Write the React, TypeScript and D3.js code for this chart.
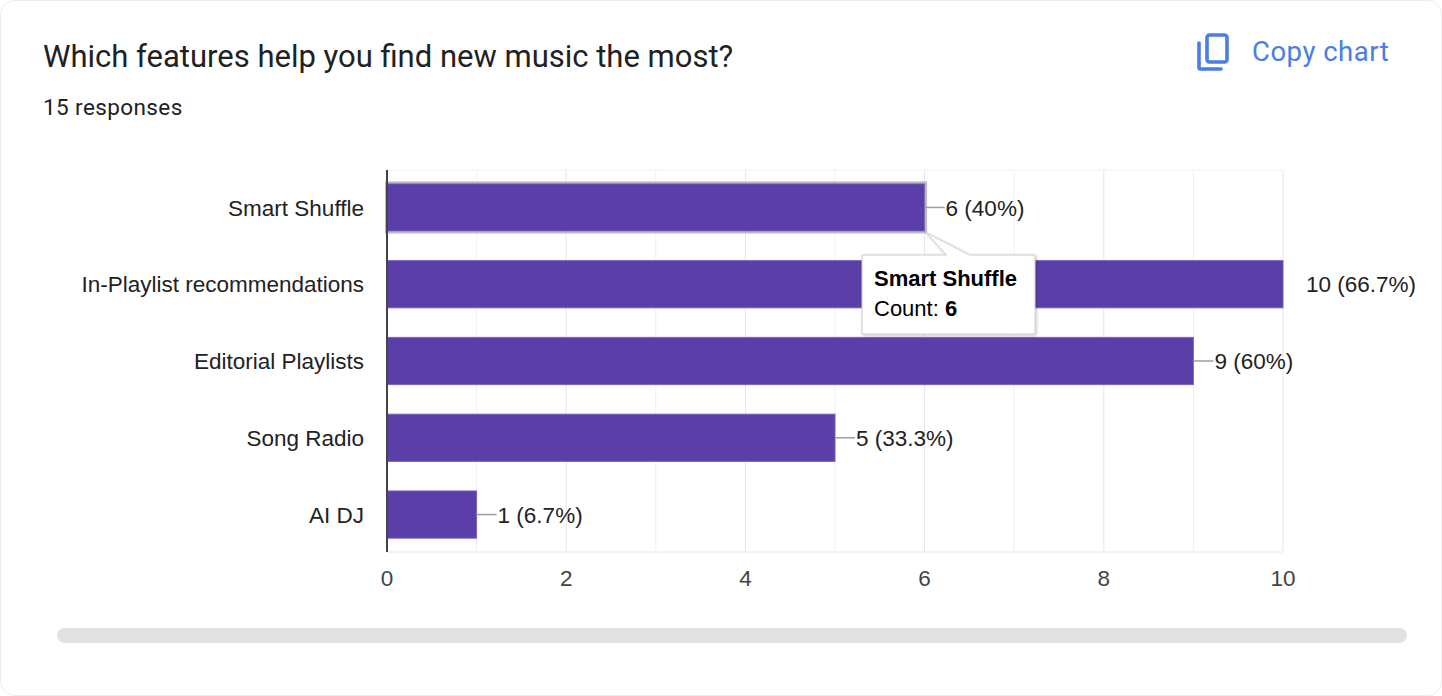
import React from "react";
import * as d3 from "d3";

const categories = ["Smart Shuffle", "In-Playlist recommendations", "Editorial Playlists", "Song Radio", "AI DJ"];
const counts = [6, 10, 9, 5, 1];
const percents = ["40%", "66.7%", "60%", "33.3%", "6.7%"];
const xTicks = [0, 2, 4, 6, 8, 10];
const totalResponses = 15;
const title = "Which features help you find new music the most?";
const highlighted = "Smart Shuffle";

const W = 1442;
const H = 696;
const plot = { left: 387, right: 1283, top: 170, bottom: 552 };
const BAR = "#5b3ea8";
const labelFont = "'Liberation Sans', Arial, sans-serif";
const FS = 22.5;

export default function App() {
  const x = d3.scaleLinear().domain([0, 10]).range([plot.left, plot.right]);
  const y = d3
    .scaleBand<string>()
    .domain(categories)
    .range([plot.top, plot.bottom])
    .paddingInner(0.385)
    .paddingOuter(0.18);
  const minor = d3.range(0, 11, 1);
  const hi = categories.indexOf(highlighted);
  const hx = x(counts[hi]);
  const hy = (y(highlighted) as number) + y.bandwidth();
  const tip = { x: 862, y: 255, w: 173, h: 79 };

  return (
    <svg
      width={W}
      height={H}
      style={{ position: "absolute", left: 0, top: 0, background: "#fff" }}
    >
      <defs>
        <filter id="sh" x="-20%" y="-20%" width="140%" height="150%">
          <feDropShadow dx="1" dy="1" stdDeviation="1.5" floodColor="#000" floodOpacity="0.25" />
        </filter>
      </defs>
      <rect x={0.5} y={0.5} width={W - 1} height={H - 1} rx={14} fill="#fff" stroke="#ededed" />

      <text x={43} y={67} fontFamily="Roboto, 'Noto Sans', sans-serif" fontSize={31} fill="#202124">
        {title}
      </text>
      <text x={43} y={115} fontFamily="Roboto, 'Noto Sans', sans-serif" fontSize={22.5} fill="#202124" letterSpacing={0.4}>
        {`${totalResponses} responses`}
      </text>

      {/* Copy chart */}
      <g stroke="#4a7ee6" strokeWidth={3.6} fill="none" strokeLinecap="round" strokeLinejoin="round">
        <rect x={1207} y={35} width={20} height={27} rx={2.5} />
        <path d="M1199,43 V67.5 a1.5,1.5 0 0 0 1.5,1.5 H1221" />
      </g>
      <text x={1252} y={61} fontFamily="Roboto, 'Noto Sans', sans-serif" fontSize={27.5} fill="#4a7ee6" letterSpacing={0.5}>
        Copy chart
      </text>

      {/* gridlines */}
      {minor.map((v) => (
        <line
          key={"g" + v}
          x1={x(v)}
          x2={x(v)}
          y1={plot.top}
          y2={plot.bottom}
          stroke={v % 2 === 0 ? "#e6e6e6" : "#f0f0f0"}
          strokeWidth={1}
        />
      ))}
      <line x1={plot.left} x2={plot.right} y1={plot.top} y2={plot.top} stroke="#f0f0f0" />
      <line x1={plot.left} x2={plot.right} y1={plot.bottom} y2={plot.bottom} stroke="#e6e6e6" />

      {/* bars */}
      {categories.map((c, i) => {
        const by = y(c) as number;
        const bw = x(counts[i]) - x(0);
        const cy = by + y.bandwidth() / 2;
        const isHi = c === highlighted;
        const lx = x(counts[i]);
        const full = counts[i] === 10;
        const leader = full ? 0 : 20;
        return (
          <g key={c}>
            {isHi && (
              <rect x={x(0) - 1} y={by - 1.5} width={bw + 2.5} height={y.bandwidth() + 3} fill="none" stroke="#bdbdbd" strokeWidth={2} />
            )}
            <rect x={x(0)} y={by} width={bw} height={y.bandwidth()} fill={BAR} stroke="#7a63bf" strokeWidth={1} />
            <text
              x={plot.left - 23}
              y={cy}
              dy="0.36em"
              textAnchor="end"
              fontFamily={labelFont}
              fontSize={FS}
              fill="#222"
            >
              {c}
            </text>
            {leader > 0 && <line x1={lx} x2={lx + leader} y1={cy} y2={cy} stroke="#9e9e9e" strokeWidth={1.5} />}
            <text
              x={lx + (full ? 23 : leader + 1)}
              y={cy}
              dy="0.36em"
              fontFamily={labelFont}
              fontSize={FS}
              fill="#222"
            >
              {`${counts[i]} (${percents[i]})`}
            </text>
          </g>
        );
      })}

      {/* axis */}
      <line x1={plot.left} x2={plot.left} y1={plot.top} y2={plot.bottom} stroke="#444" strokeWidth={2} />
      {xTicks.map((t) => (
        <text key={"t" + t} x={x(t)} y={586} textAnchor="middle" fontFamily={labelFont} fontSize={FS} fill="#444">
          {t}
        </text>
      ))}

      {/* tooltip */}
      <g filter="url(#sh)">
        <path
          d={`M${tip.x},${tip.y} H${hx + 22} L${hx + 2},${hy + 2} L${hx + 45},${tip.y} H${tip.x + tip.w} V${tip.y + tip.h} H${tip.x} Z`}
          fill="#fff"
          stroke="#cccccc"
          strokeWidth={1}
        />
      </g>
      <text x={tip.x + 12} y={tip.y + 31} fontFamily={labelFont} fontSize={22} fontWeight="bold" fill="#000">
        {highlighted}
      </text>
      <text x={tip.x + 12} y={tip.y + 61} fontFamily={labelFont} fontSize={22} fill="#000">
        Count: <tspan fontWeight="bold">{counts[hi]}</tspan>
      </text>

      {/* scrollbar */}
      <rect x={57} y={628} width={1350} height={15} rx={7.5} fill="#e1e1e1" />
    </svg>
  );
}
